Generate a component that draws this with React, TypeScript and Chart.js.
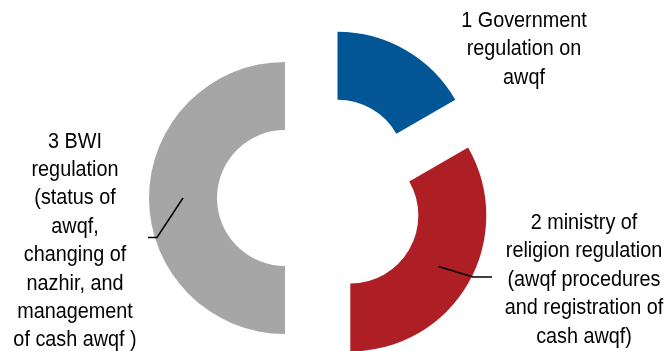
import React, { useEffect, useRef } from "react";
import { Chart, registerables } from "chart.js";

Chart.register(...registerables);

const labelLines: string[][] = [
  ["1 Government", "regulation on", "awqf"],
  ["2 ministry of", "religion regulation", "(awqf procedures", "and registration of", "cash awqf)"],
  ["3 BWI", "regulation", "(status of", "awqf,", "changing of", "nazhir, and", "management", "of cash awqf )"],
];
const categories: string[] = labelLines.map((l) => l.join(" "));
const values: number[] = [1, 2, 3];
const colors: string[] = ["#025696", "#AE1F25", "#A6A6A6"];

const EXPLODE = 35;
const FONT = '22px "Liberation Sans", Arial, sans-serif';
const X_SCALE = 0.9;
const LINE_H = 28.4;
// label layout: text centre x, first line centre y, optional leader (elbow, end)
const labelLayout = [
  { x: 524, y: 21, leader: null as null | { elbow: [number, number]; end: [number, number] } },
  { x: 584, y: 223, leader: { elbow: [473, 277] as [number, number], end: [492, 277] as [number, number] } },
  { x: 75, y: 141.5, leader: { elbow: [157, 237.5] as [number, number], end: [148, 237.5] as [number, number] } },
];

const explodePlugin = {
  id: "explode",
  beforeDatasetsDraw(chart: any) {
    const meta = chart.getDatasetMeta(0);
    meta.data.forEach((el: any) => {
      if (el.__exploded) return;
      const orig = el.draw.bind(el);
      el.draw = (ctx: CanvasRenderingContext2D) => {
        const mid = (el.startAngle + el.endAngle) / 2;
        ctx.save();
        ctx.translate(Math.cos(mid) * EXPLODE, Math.sin(mid) * EXPLODE);
        orig(ctx);
        ctx.restore();
      };
      el.__exploded = true;
    });
  },
  afterDatasetsDraw(chart: any) {
    const ctx: CanvasRenderingContext2D = chart.ctx;
    const meta = chart.getDatasetMeta(0);
    ctx.save();
    ctx.font = FONT;
    ctx.fillStyle = "#000";
    ctx.textAlign = "center";
    ctx.textBaseline = "middle";
    meta.data.forEach((el: any, i: number) => {
      const lay = labelLayout[i];
      if (lay.leader) {
        const mid = (el.startAngle + el.endAngle) / 2;
        const p = el.tooltipPosition();
        const sx = p.x + Math.cos(mid) * EXPLODE;
        const sy = p.y + Math.sin(mid) * EXPLODE;
        ctx.beginPath();
        ctx.strokeStyle = "#000";
        ctx.lineWidth = 1.5;
        ctx.moveTo(sx, sy);
        ctx.lineTo(lay.leader.elbow[0], lay.leader.elbow[1]);
        ctx.lineTo(lay.leader.end[0], lay.leader.end[1]);
        ctx.stroke();
      }
      labelLines[i].forEach((line, j) => {
        ctx.save();
        ctx.translate(lay.x, lay.y + j * LINE_H);
        ctx.scale(X_SCALE, 1);
        ctx.fillText(line, 0, 0);
        ctx.restore();
      });
    });
    ctx.restore();
  },
};

export default function App() {
  const ref = useRef<HTMLCanvasElement>(null);
  useEffect(() => {
    if (!ref.current) return;
    const chart = new Chart(ref.current, {
      type: "doughnut",
      data: {
        labels: categories,
        datasets: [
          {
            data: values,
            backgroundColor: colors,
            borderWidth: 0,
          },
        ],
      },
      options: {
        animation: false,
        responsive: false,
        maintainAspectRatio: false,
        radius: 136,
        cutout: "50%",
        layout: { padding: { left: 0, right: 29, top: 45, bottom: 0 } },
        plugins: {
          legend: { display: false },
          tooltip: { enabled: false },
        },
      } as any,
      plugins: [explodePlugin],
    });
    return () => chart.destroy();
  }, []);
  return (
    <div style={{ position: "fixed", left: 0, top: 0, width: 669, height: 351, background: "#fff" }}>
      <canvas ref={ref} width={669} height={351} />
    </div>
  );
}
